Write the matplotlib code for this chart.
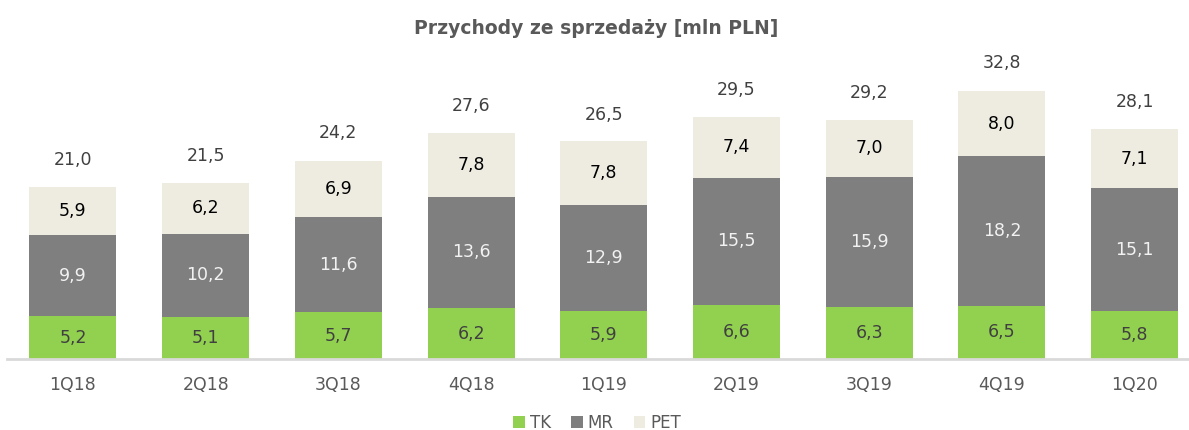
import matplotlib.pyplot as plt
import numpy as np

# Dane (mln PLN)
quarters = ['1Q18', '2Q18', '3Q18', '4Q18', '1Q19', '2Q19', '3Q19', '4Q19', '1Q20']
tk = [5.2, 5.1, 5.7, 6.2, 5.9, 6.6, 6.3, 6.5, 5.8]
mr = [9.9, 10.2, 11.6, 13.6, 12.9, 15.5, 15.9, 18.2, 15.1]
pet = [5.9, 6.2, 6.9, 7.8, 7.8, 7.4, 7.0, 8.0, 7.1]
totals = [21.0, 21.5, 24.2, 27.6, 26.5, 29.5, 29.2, 32.8, 28.1]


def fmt(v):
    return f'{v:.1f}'.replace('.', ',')


plt.rcParams['font.family'] = ['DejaVu Sans']

fig = plt.figure(figsize=(11.89, 4.30), dpi=100)
ax = fig.add_axes([6.6 / 1189, 71 / 430, (1189 - 6.6) / 1189, 299 / 430])

x = np.arange(len(quarters))
w = 0.656
green, grey, beige = '#92D050', '#7F7F7F', '#EEECE1'

b1 = ax.bar(x, tk, w, color=green, label='TK')
b2 = ax.bar(x, mr, w, bottom=tk, color=grey, label='MR')
bottom2 = np.array(tk) + np.array(mr)
b3 = ax.bar(x, pet, w, bottom=bottom2, color=beige, label='PET')

fs = 12.5
for i in range(len(quarters)):
    ax.text(x[i], tk[i] / 2, fmt(tk[i]), ha='center', va='center', fontsize=fs, color='#404040')
    ax.text(x[i], tk[i] + mr[i] / 2, fmt(mr[i]), ha='center', va='center', fontsize=fs, color='#F2F2F2')
    ax.text(x[i], bottom2[i] + pet[i] / 2, fmt(pet[i]), ha='center', va='center', fontsize=fs, color='#000000')
    ax.text(x[i], totals[i] + 3.3, fmt(totals[i]), ha='center', va='center', fontsize=fs, color='#404040')

ax.set_xlim(-0.5, (1189 - 73) / 132.7)
ax.set_ylim(0, 299 / 8.2)
ax.set_xticks(x)
ax.set_xticklabels(quarters, fontsize=fs, color='#595959')
ax.tick_params(axis='x', length=0, pad=12)
ax.set_yticks([])
for s in ['top', 'right', 'left']:
    ax.spines[s].set_visible(False)
ax.spines['bottom'].set_color('#D9D9D9')
ax.spines['bottom'].set_linewidth(2)

fig.text(596 / 1189, 1 - 28 / 430, 'Przychody ze sprzedaży [mln PLN]', ha='center', va='center',
         fontsize=13.5, fontweight='bold', color='#595959')

leg = fig.legend(handles=[b1, b2, b3], labels=['TK', 'MR', 'PET'], loc='center',
                 bbox_to_anchor=(597 / 1189, 1 - 423 / 430), ncol=3, frameon=False,
                 fontsize=12, handlelength=0.7, handleheight=0.7, handletextpad=0.3,
                 columnspacing=1.2)
for t in leg.get_texts():
    t.set_color('#595959')

fig.savefig('out.png', dpi=100)
